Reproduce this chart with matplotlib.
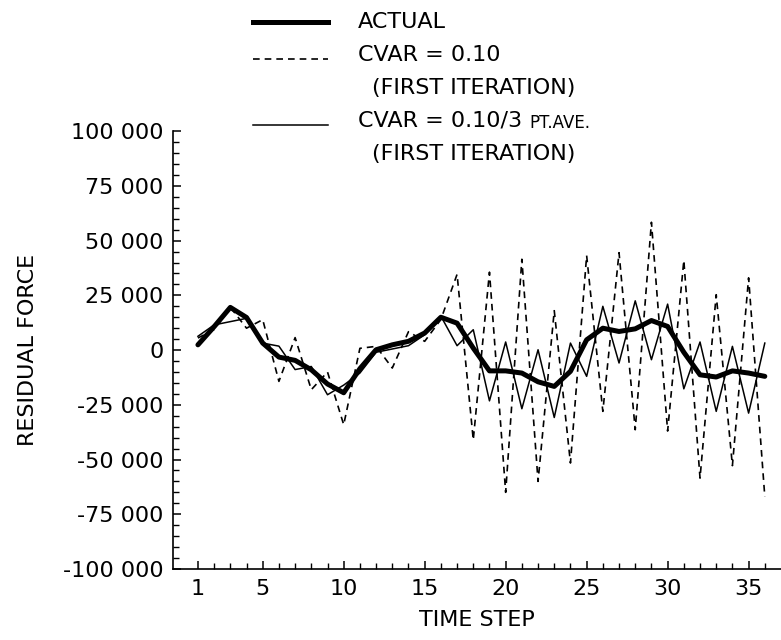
import matplotlib
matplotlib.use("Agg")
import matplotlib.pyplot as plt
from matplotlib.ticker import FixedLocator, MultipleLocator, FuncFormatter
from matplotlib.lines import Line2D

plt.rcParams['font.family'] = ['Liberation Sans Narrow', 'DejaVu Sans']

# ---- data ----
time_step = list(range(1, 37))
actual = [2400, 10700, 19500, 14900, 3200, -3200, -4700, -9000, -15500, -19500,
          -8500, 150, 2400, 4000, 7800, 15000, 12300, 900, -9500, -9500,
          -10500, -14500, -16600, -9700, 4700, 10000, 8500, 9700, 13500, 10800,
          -1000, -11300, -12300, -9500, -10500, -12000]
cvar_010 = [5500, 9400, 19600, 10000, 13900, -14300, 5700, -18100, -10000, -34100,
            800, 1700, -8200, 8400, 4000, 14000, 34600, -41000, 35600, -65000,
            41500, -60000, 18000, -51600, 43200, -28000, 44500, -36400, 58400, -37000,
            41000, -58500, 25300, -52800, 33000, -67000]
cvar_3pt = [6300, 11500, 13000, 14500, 3200, 1800, -8900, -7500, -20400, -16000,
            -10500, -1000, 500, 2000, 7000, 15500, 2000, 9300, -23200, 3700,
            -26800, 150, -30800, 3200, -12000, 20000, -5900, 22500, -4400, 21000,
            -17700, 3700, -28000, 1700, -28800, 3200]
x_tick_labels = [1, 5, 10, 15, 20, 25, 30, 35]
y_ticks = [-100000, -75000, -50000, -25000, 0, 25000, 50000, 75000, 100000]

FS = 16

fig = plt.figure(figsize=(7.81, 6.40), dpi=100)
ax = fig.add_axes([0.2215, 0.111, 0.7785, 0.684])

ax.plot(time_step, actual, color='black', lw=3.6, solid_joinstyle='round',
        solid_capstyle='round', zorder=3)
ax.plot(time_step, cvar_010, color='black', lw=1.2, ls=(0, (4, 3)), zorder=2)
ax.plot(time_step, cvar_3pt, color='black', lw=1.1, zorder=2)

ax.set_xlim(-0.54, 37.0)
ax.set_ylim(-100000, 100000)

for s in ['top', 'right']:
    ax.spines[s].set_visible(False)
for s in ['left', 'bottom']:
    ax.spines[s].set_linewidth(1.2)

ax.xaxis.set_major_locator(FixedLocator(x_tick_labels))
ax.xaxis.set_minor_locator(FixedLocator(time_step))
ax.yaxis.set_major_locator(FixedLocator(y_ticks))
ax.yaxis.set_minor_locator(MultipleLocator(5000))

def yfmt(v, pos):
    v = int(round(v))
    if v == 0:
        return "0"
    s = f"{abs(v):,}".replace(",", " ")
    return ("-" if v < 0 else "") + s

ax.yaxis.set_major_formatter(FuncFormatter(yfmt))
ax.tick_params(axis='both', which='major', direction='in', length=6, width=1.1,
               labelsize=FS, pad=7)
ax.tick_params(axis='both', which='minor', direction='in', length=4, width=1.0)

ax.set_xlabel("TIME STEP", fontsize=FS, labelpad=8)
ax.set_ylabel("RESIDUAL FORCE", fontsize=FS, labelpad=18)

# ---- legend drawn in figure pixel space ----
W, H = 781, 640
def fy(py):
    return 1 - py / H
def fx(px):
    return px / W

lx0, lx1, tx, tx2 = 253, 328, 358, 372
rows = [22, 55, 88, 121, 154]
fig.add_artist(Line2D([fx(lx0), fx(lx1)], [fy(rows[0]), fy(rows[0])], color='black', lw=3.6))
fig.add_artist(Line2D([fx(lx0), fx(lx1)], [fy(rows[1] + 4), fy(rows[1] + 4)], color='black', lw=1.2, ls=(0, (4, 3))))
fig.add_artist(Line2D([fx(lx0), fx(lx1)], [fy(rows[3] + 4), fy(rows[3] + 4)], color='black', lw=1.1))

fig.text(fx(tx), fy(rows[0]), "ACTUAL", fontsize=FS, va='center', ha='left')
fig.text(fx(tx), fy(rows[1]), "CVAR = 0.10", fontsize=FS, va='center', ha='left')
fig.text(fx(tx2), fy(rows[2]), "(FIRST ITERATION)", fontsize=FS, va='center', ha='left')
t4 = fig.text(fx(tx), fy(rows[3]), "CVAR = 0.10/3 ", fontsize=FS, va='center', ha='left')
fig.text(fx(tx2), fy(rows[4]), "(FIRST ITERATION)", fontsize=FS, va='center', ha='left')

fig.canvas.draw()
bb = t4.get_window_extent(renderer=fig.canvas.get_renderer())
fig.text(bb.x1 / fig.dpi / fig.get_figwidth(), fy(rows[3] + 2), "PT.AVE.",
         fontsize=FS - 4, va='center', ha='left')

fig.savefig("out.png", dpi=100)
